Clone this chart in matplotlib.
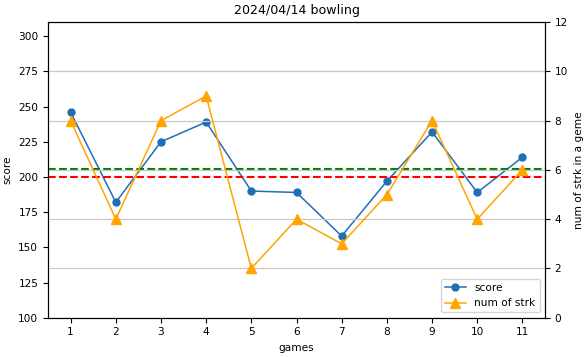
import numpy as np
import matplotlib
matplotlib.use("Agg")
import matplotlib.pyplot as plt

# game results
games = [1, 2, 3, 4, 5, 6, 7, 8, 9, 10, 11]
scores = [246, 182, 225, 239, 190, 189, 158, 197, 232, 189, 214]
strikes = [8, 4, 8, 9, 2, 4, 3, 5, 8, 4, 6]
target_score = 200

plt.rcParams['font.size'] = 7.6

fig = plt.figure(figsize=(5.86, 3.57), dpi=100)
ax1 = fig.add_axes([0.082, 0.110, 0.848, 0.828])
ax2 = ax1.twinx()

l1, = ax1.plot(games, scores, marker='o', color='#1f6fb4', lw=1.1, ms=5, label='score')
l2, = ax2.plot(games, strikes, marker='^', color='orange', lw=1.1, ms=6.5, label='num of strk')

ax1.axhline(np.mean(scores), color='green', ls='--', lw=1.5)
ax1.axhline(target_score, color='red', ls='--', lw=1.5)

ax1.set_ylim(100, 310)
ax1.set_yticks([100, 125, 150, 175, 200, 225, 250, 275, 300])
ax2.set_ylim(0, 12)
ax2.set_yticks([0, 2, 4, 6, 8, 10, 12])
ax2.grid(axis='y', color='#c8c8c8', lw=0.9)
ax1.set_xlim(0.5, 11.5)
ax1.set_xticks(games)

ax1.set_title('2024/04/14 bowling', fontsize=9.1)
ax1.set_xlabel('games')
ax1.set_ylabel('score')
ax2.set_ylabel('num of strk in a geme')

ax2.legend([l1, l2], ['score', 'num of strk'], loc='lower right')

fig.savefig('out.png', dpi=100)
